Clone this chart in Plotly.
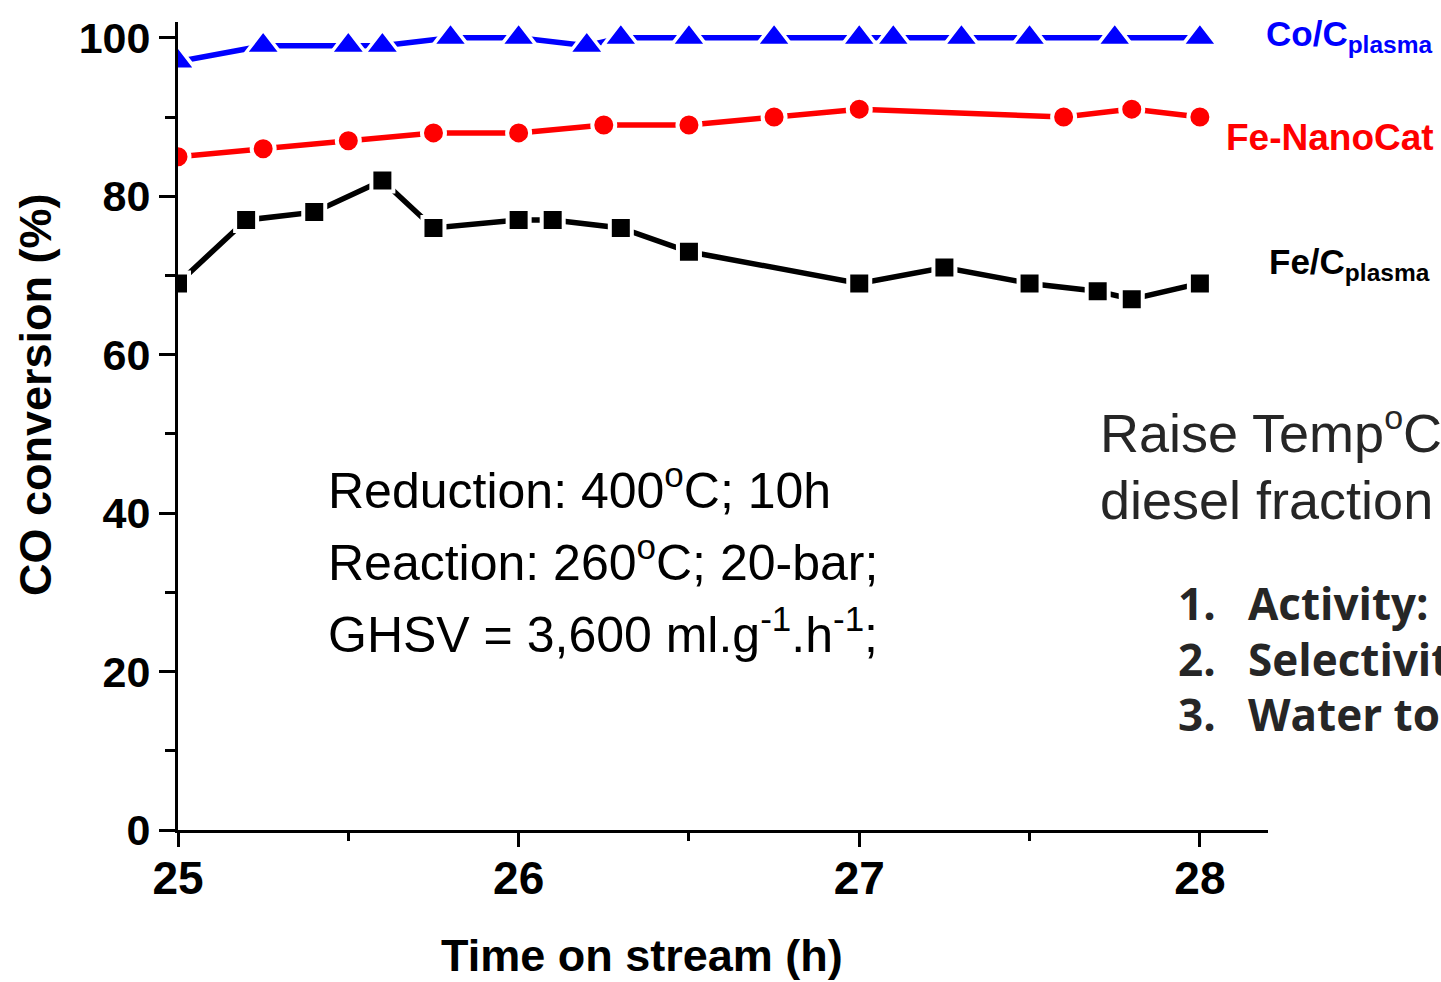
import plotly.graph_objects as go

# Time on stream (h) and CO conversion (%) for each catalyst
co_time = [25.0, 25.25, 25.5, 25.6, 25.8, 26.0, 26.2, 26.3, 26.5, 26.75, 27.0, 27.1, 27.3, 27.5, 27.75, 28.0]
co_conv = [97, 99, 99, 99, 100, 100, 99, 100, 100, 100, 100, 100, 100, 100, 100, 100]

fenano_time = [25.0, 25.25, 25.5, 25.75, 26.0, 26.25, 26.5, 26.75, 27.0, 27.6, 27.8, 28.0]
fenano_conv = [85, 86, 87, 88, 88, 89, 89, 90, 91, 90, 91, 90]

fec_time = [25.0, 25.2, 25.4, 25.6, 25.75, 26.0, 26.1, 26.3, 26.5, 27.0, 27.25, 27.5, 27.7, 27.8, 28.0]
fec_conv = [69, 77, 78, 82, 76, 77, 77, 76, 73, 69, 71, 69, 68, 67, 69]

x_ticks = [25, 26, 27, 28]
y_ticks = [0, 20, 40, 60, 80, 100]

W, H = 1441, 982
L, R, T, B = 178, 1268, 22, 830


def px(x):
    return (x - L) / (R - L)


def py(y):
    return (B - y) / (B - T)


fig = go.Figure()

# (x, y, colour, symbol, marker size, white outline width)
series = [
    (fec_time, fec_conv, "black", "square", 22, 4),
    (fenano_time, fenano_conv, "#ff0000", "circle", 23, 4),
    (co_time, co_conv, "#0000ff", "triangle-up", 31, 3.5),
]
for xs, ys, col, sym, size, edge in series:
    fig.add_trace(go.Scatter(
        x=xs, y=ys, mode="lines+markers",
        line=dict(color=col, width=5.5),
        marker=dict(symbol=sym, size=size, color=col,
                    line=dict(color="white", width=edge)),
        showlegend=False,
    ))

fig.update_xaxes(
    range=[25, 28.2], tickvals=x_ticks, ticktext=[str(v) for v in x_ticks],
    showline=True, linecolor="black", linewidth=3,
    ticks="outside", ticklen=14, tickwidth=2.5, tickcolor="black",
    minor=dict(dtick=0.5, ticks="outside", ticklen=8, tickwidth=2.5, tickcolor="black"),
    showgrid=False, zeroline=False, ticklabelstandoff=-8,
    tickfont=dict(family="Liberation Sans", size=46, color="black", weight="bold"),
)
fig.update_yaxes(
    range=[0, 102], tickvals=y_ticks, ticktext=[str(v) for v in y_ticks],
    showline=True, linecolor="black", linewidth=3,
    ticks="outside", ticklen=16, tickwidth=2.5, tickcolor="black",
    minor=dict(dtick=10, ticks="outside", ticklen=10, tickwidth=2.5, tickcolor="black"),
    showgrid=False, zeroline=False,
    tickfont=dict(family="Liberation Sans", size=43, color="black", weight="bold"),
)

ann = []


def text(x, y, s, size, color="black", family="Liberation Sans", weight="normal", xanchor="left"):
    ann.append(dict(
        x=px(x), y=py(y), xref="paper", yref="paper", text=s, showarrow=False,
        xanchor=xanchor, yanchor="middle",
        font=dict(family=family, size=size, color=color, weight=weight),
    ))


# axis titles
text(642, 956, "Time on stream (h)", 45, weight="bold", xanchor="center")
ann.append(dict(
    x=px(35), y=py(395), xref="paper", yref="paper", text="CO conversion (%)", showarrow=False,
    textangle=-90, xanchor="center", yanchor="middle",
    font=dict(family="Liberation Sans", size=45, color="black", weight="bold"),
))

# series labels
text(1264, 36, "Co/C<sub>plasma</sub>", 35, color="#0000ff", weight="bold")
text(1224, 137, "Fe-NanoCat", 37, color="#ff0000", weight="bold")
text(1267, 264, "Fe/C<sub>plasma</sub>", 35, color="black", weight="bold")

# test conditions
text(326, 487, "Reduction: 400<sup>o</sup>C; 10h", 50)
text(326, 559, "Reaction: 260<sup>o</sup>C; 20-bar;", 50)
text(326, 631, "GHSV = 3,600 ml.g<sup>-1</sup>.h<sup>-1</sup>;", 50)

# side note
text(1098, 430, "Raise Temp<sup><span style='font-size:34px'>o</span></sup>C", 54, color="#262626")
text(1098, 500, "diesel fraction", 54, color="#262626")
for yy, num, word in [(603, "1.", "Activity:"), (659, "2.", "Selectivity"), (714, "3.", "Water to")]:
    text(1176, yy, num, 44, color="#262626", family="Open Sans", weight="bold")
    text(1246, yy, word, 44, color="#262626", family="Open Sans", weight="bold")

fig.update_layout(
    width=W, height=H,
    margin=dict(l=L, r=W - R, t=T, b=H - B),
    paper_bgcolor="white", plot_bgcolor="white",
    annotations=ann,
)

fig.write_html("out.html")
